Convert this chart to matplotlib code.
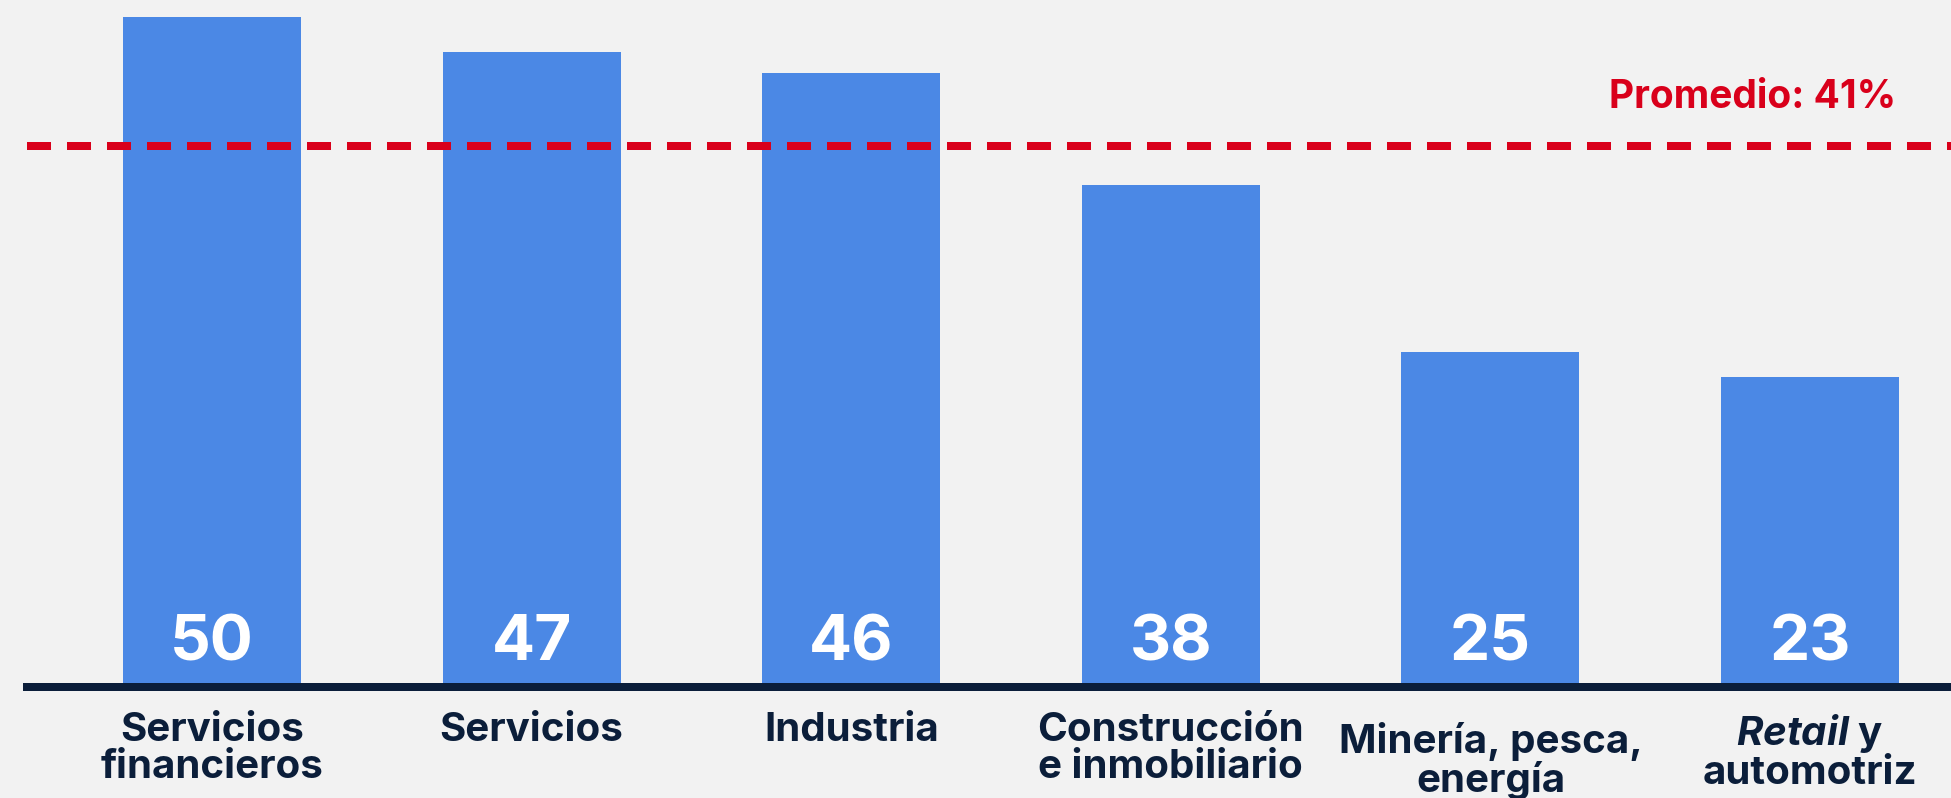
import matplotlib
matplotlib.use('Agg')
import matplotlib.pyplot as plt
import matplotlib.transforms as mtransforms

# datos (alturas; la etiqueta es el valor redondeado)
sectores = ['Servicios\nfinancieros', 'Servicios', 'Industria',
            'Construcción\ne inmobiliario', 'Minería, pesca,\nenergía',
            '$\\mathit{Retail}$ y\nautomotriz']
valores = [50, 47.4, 45.8, 37.5, 25, 23.1]
promedio = 40.4
etiqueta_promedio = 'Promedio: 41%'

azul = '#4b88e5'
navy = '#0b1e3a'
rojo = '#d9001b'
fondo = '#f2f2f2'

plt.rcParams['font.family'] = ['Inter', 'DejaVu Sans']
plt.rcParams['font.weight'] = 'bold'
plt.rcParams['mathtext.fontset'] = 'custom'
plt.rcParams['mathtext.it'] = 'Inter:italic:bold'
plt.rcParams['mathtext.rm'] = 'Inter:bold'

fig = plt.figure(figsize=(19.51, 7.98), dpi=100, facecolor=fondo)
ax = fig.add_axes([27 / 1951, 111 / 798, 1 - 27 / 1951, 1 - 111 / 798])
ax.set_facecolor(fondo)

x = list(range(len(valores)))
ax.bar(x, valores, width=0.557, color=azul, zorder=2)

ax.set_xlim(-0.579, 5.441)
ax.set_ylim(0, 51.27)

# linea base
ax.axhline(0, color=navy, lw=5.76, clip_on=False, zorder=4)

# promedio
ax.axhline(promedio, color=rojo, lw=5.76, linestyle=(0, (3, 2)), zorder=3)
trans = mtransforms.blended_transform_factory(ax.transAxes, ax.transData)
ax.annotate(etiqueta_promedio, xy=(1, promedio), xycoords=trans,
            xytext=(-39.6, 27.4), textcoords='offset points',
            ha='right', va='baseline', color=rojo, fontsize=28, fontweight='bold')

for i, v in enumerate(valores):
    ax.annotate('%d' % round(v), xy=(i, 0), xytext=(0, 19.4), textcoords='offset points',
                ha='center', va='baseline', color='white', fontsize=46,
                fontweight='bold', zorder=5)
    dy = -25.5 if i == 4 else -18.0   # la de mineria va un poco mas abajo
    ax.annotate(sectores[i], xy=(i, 0), xytext=(0, dy), textcoords='offset points',
                ha='center', va='top', color=navy, fontsize=29, fontweight='bold',
                linespacing=1.0, annotation_clip=False)

for s in ax.spines.values():
    s.set_visible(False)
ax.set_xticks([])
ax.set_yticks([])

fig.savefig('out.png', dpi=100, facecolor=fondo)
